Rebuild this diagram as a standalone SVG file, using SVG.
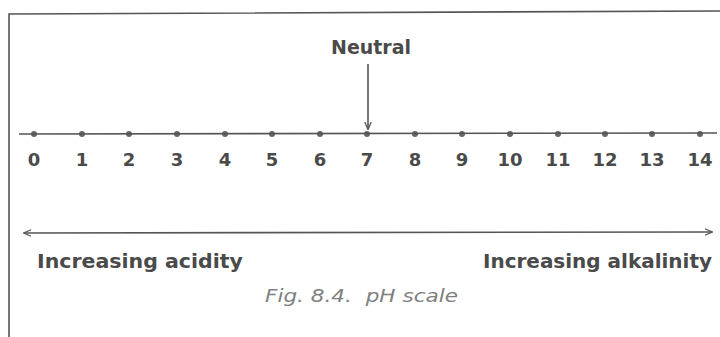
<svg xmlns="http://www.w3.org/2000/svg" width="720" height="337" viewBox="0 0 720 337">
<defs>
<style>
.t{font-family:"DejaVu Sans","Liberation Sans",Arial,sans-serif;fill:#4a4a4a;font-weight:bold;}
.num{font-size:18px;text-anchor:middle;}
.lbl{font-size:19px;}
.cap{font-size:17px;font-style:italic;font-weight:normal;fill:#808080;}
.ln{stroke:#555;stroke-width:1.6;fill:none;}
.dot{fill:#666;}
</style>
<marker id="ah" viewBox="0 0 10 10" refX="9" refY="5" markerWidth="8" markerHeight="8" orient="auto-start-reverse" markerUnits="userSpaceOnUse">
<path d="M0,1 L10,5 L0,9" fill="none" stroke="#555" stroke-width="1.6"/>
</marker>
</defs>
<rect width="720" height="337" fill="#fff"/>
<g id="frame">
<path class="ln" d="M9,337 L9,14 L720,11" stroke-width="1.8"/>
</g>
<g id="neutral">
<text class="t lbl" x="371" y="54" text-anchor="middle" textLength="80" lengthAdjust="spacingAndGlyphs">Neutral</text>
</g>
<g id="scale">
<g id="p0"><circle class="dot" cx="34" cy="134" r="3"/><text class="t num" x="34" y="166">0</text></g>
<g id="p1"><circle class="dot" cx="82" cy="134" r="3"/><text class="t num" x="82" y="166">1</text></g>
<g id="p2"><circle class="dot" cx="129" cy="134" r="3"/><text class="t num" x="129" y="166">2</text></g>
<g id="p3"><circle class="dot" cx="177" cy="134" r="3"/><text class="t num" x="177" y="166">3</text></g>
<g id="p4"><circle class="dot" cx="225" cy="134" r="3"/><text class="t num" x="225" y="166">4</text></g>
<g id="p5"><circle class="dot" cx="272" cy="134" r="3"/><text class="t num" x="272" y="166">5</text></g>
<g id="p6"><circle class="dot" cx="320" cy="134" r="3"/><text class="t num" x="320" y="166">6</text></g>
<g id="p7"><circle class="dot" cx="367" cy="134" r="3"/><text class="t num" x="367" y="166">7</text></g>
<g id="p8"><circle class="dot" cx="415" cy="134" r="3"/><text class="t num" x="415" y="166">8</text></g>
<g id="p9"><circle class="dot" cx="462" cy="134" r="3"/><text class="t num" x="462" y="166">9</text></g>
<g id="p10"><circle class="dot" cx="510" cy="134" r="3"/><text class="t num" x="510" y="166">10</text></g>
<g id="p11"><circle class="dot" cx="558" cy="134" r="3"/><text class="t num" x="558" y="166">11</text></g>
<g id="p12"><circle class="dot" cx="605" cy="134" r="3"/><text class="t num" x="605" y="166">12</text></g>
<g id="p13"><circle class="dot" cx="652" cy="134" r="3"/><text class="t num" x="652" y="166">13</text></g>
<g id="p14"><circle class="dot" cx="700" cy="134" r="3"/><text class="t num" x="700" y="166">14</text></g>
</g>
<g id="connectors">
<line class="ln" x1="19" y1="134" x2="717" y2="133"/>
<line class="ln" x1="368" y1="64" x2="368" y2="129" marker-end="url(#ah)"/>
<line class="ln" x1="24" y1="233" x2="712" y2="232" marker-start="url(#ah)" marker-end="url(#ah)"/>
</g>
<g id="acidity">
<text class="t lbl" x="37" y="268" textLength="206" lengthAdjust="spacingAndGlyphs">Increasing acidity</text>
</g>
<g id="alkalinity">
<text class="t lbl" x="483" y="268" textLength="229" lengthAdjust="spacingAndGlyphs">Increasing alkalinity</text>
</g>
<g id="caption">
<text class="t cap" x="265" y="302" textLength="193" lengthAdjust="spacingAndGlyphs" xml:space="preserve">Fig. 8.4.  pH scale</text>
</g>
</svg>
